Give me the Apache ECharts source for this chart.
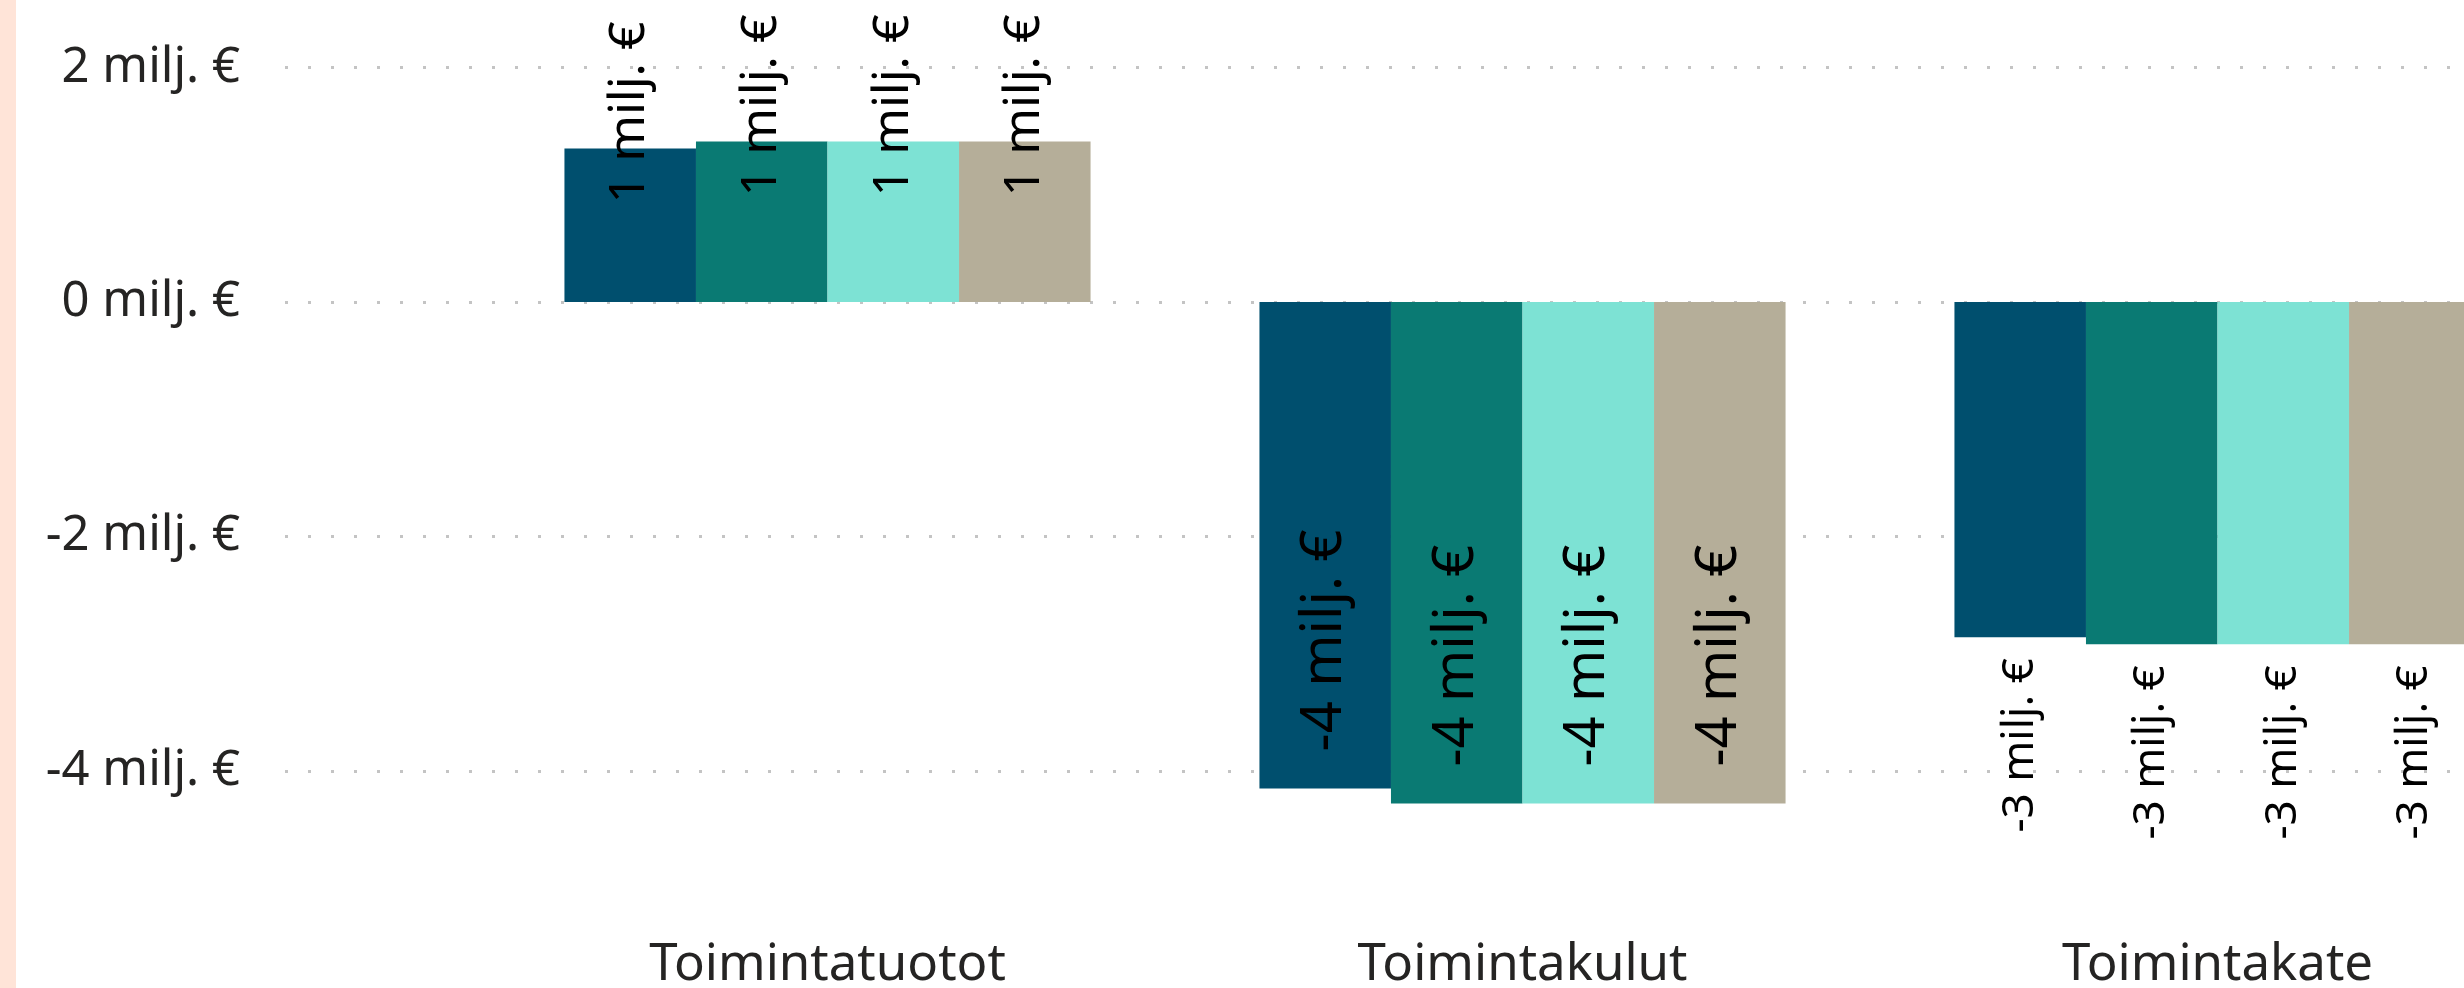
<!DOCTYPE html>
<html>
<head>
<meta charset="utf-8">
<script src="https://cdn.jsdelivr.net/npm/echarts@6/dist/echarts.min.js"></script>
<style>
html,body{margin:0;padding:0;background:#fff;}
#chart{width:2464px;height:988px;}
</style>
</head>
<body>
<div id="chart"></div>
<script>
// ---- data ----
const categories = ['Toimintatuotot', 'Toimintakulut', 'Toimintakate'];
const seriesNames = ['Sarja 1', 'Sarja 2', 'Sarja 3', 'Sarja 4'];
const series1 = [1.31, -4.15, -2.86];
const series2 = [1.37, -4.28, -2.92];
const series3 = [1.37, -4.28, -2.92];
const series4 = [1.37, -4.28, -2.92];
const yTickMin = -6, yTickMax = 2, yTickStep = 2;
const unit = ' milj. €';

// ---- styles ----
const colors = ['#004F6E', '#0A7A73', '#7DE2D4', '#B5AE99'];
const FONT = 'Noto Sans';
const pxPerM = 117.2;
const zeroY = 302;
const H = 988;
const barMin = -5, barMax = 2.5;

// label placement per category (style only)
const labelStyles = [
  { position: 'insideTop', distance: 55, align: 'left', fontSize: 50 },
  { position: 'insideBottom', distance: 37, align: 'left', fontSize: 56 },
  { position: 'bottom', distance: 21, align: 'right', fontSize: 44 }
];

const allSeries = [series1, series2, series3, series4];

const chart = echarts.init(document.getElementById('chart'), null, { renderer: 'canvas' });

const option = {
  animation: false,
  backgroundColor: '#ffffff',
  graphic: [{
    type: 'rect', left: 0, top: 0, z: 100,
    shape: { width: 16, height: H },
    style: { fill: '#FFE4D8' }
  }],
  grid: [
    { left: 285, right: 0, top: zeroY - yTickMax * pxPerM, bottom: H - (zeroY - yTickMin * pxPerM), containLabel: false, outerBoundsMode: 'none' },
    { left: 480, right: -101, top: zeroY - barMax * pxPerM, bottom: H - (zeroY - barMin * pxPerM), containLabel: false, outerBoundsMode: 'none' }
  ],
  xAxis: [
    { gridIndex: 0, type: 'value', min: 0, max: 1, show: false },
    {
      gridIndex: 1, type: 'category', data: categories,
      axisLine: { show: false }, axisTick: { show: false },
      axisLabel: { interval: 0, margin: 52, fontSize: 51, fontFamily: FONT, color: '#252423', hideOverlap: false }
    }
  ],
  yAxis: [
    {
      gridIndex: 0, type: 'value', min: yTickMin, max: yTickMax, interval: yTickStep,
      axisLine: { show: false }, axisTick: { show: false },
      axisLabel: {
        margin: 45, fontSize: 49, fontFamily: FONT, color: '#252423',
        showMinLabel: false,
        formatter: v => v + unit
      },
      splitLine: { show: true, lineStyle: { color: '#C4C4C4', width: 3, type: [3, 20] } }
    },
    { gridIndex: 1, type: 'value', min: barMin, max: barMax, show: false, splitLine: { show: false } }
  ],
  series: allSeries.map((vals, si) => ({
    name: seriesNames[si],
    type: 'bar',
    xAxisIndex: 1, yAxisIndex: 1,
    barGap: '0%',
    barCategoryGap: '24.3%',
    itemStyle: { color: colors[si] },
    label: {
      show: true, rotate: 90, verticalAlign: 'middle',
      fontSize: 48, fontFamily: FONT, color: '#000000',
      formatter: p => Math.round(p.value) + unit
    },
    data: vals.map((v, ci) => ({
      value: v,
      label: Object.assign({}, labelStyles[ci])
    }))
  }))
};
chart.setOption(option);
</script>
</body>
</html>
